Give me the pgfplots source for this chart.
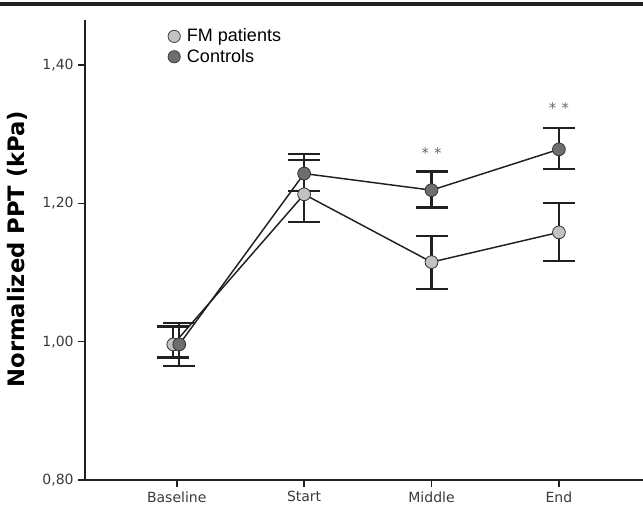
\documentclass[border=0pt]{standalone}
\usepackage{pgfplots}
\pgfplotsset{compat=1.18}
\usepackage{pgfplotstable}
\usepackage{fontspec}
\setmainfont{DejaVu Sans}
\newfontfamily\legfont{Liberation Sans}
\definecolor{fmc}{HTML}{C2C2C2}
\definecolor{ctc}{HTML}{6E6E6E}
\definecolor{ax}{HTML}{231F20}
\definecolor{tl}{HTML}{3A3A3A}
\pgfplotstableread{
x y yp ym
-0.027 0.996 0.026 0.019
1 1.213 0.049 0.040
2 1.115 0.038 0.039
3 1.158 0.042 0.042
}\fm
\pgfplotstableread{
x y yp ym
0.02 0.996 0.031 0.031
1 1.243 0.028 0.025
2 1.219 0.027 0.025
3 1.278 0.031 0.028
}\ct
\begin{document}
\begin{tikzpicture}
\useasboundingbox (0,0) rectangle (482.25pt,378pt);
\begin{axis}[
  at={(63.75pt,18pt)}, anchor=south west,
  scale only axis, width=418.5pt, height=345pt,
  xmin=-0.72, xmax=3.66, ymin=0.8, ymax=1.465,
  axis x line*=bottom, axis y line*=left,
  axis line style={line width=1.5pt, ax, -},
  xtick={0,1,2,3}, xticklabels={Baseline,Start,Middle,End},
  ytick={0.8,1.0,1.2,1.4},
  yticklabel style={/pgf/number format/.cd, fixed, fixed zerofill, precision=2, use comma, assume math mode=true},
  tick label style={font=\fontsize{10.5}{12}\selectfont, color=tl},
  tick align=outside, major tick length=5pt,
  tick style={line width=1.2pt, ax},
  ylabel={\bfseries Normalized PPT (kPa)},
  ylabel style={font=\fontsize{17}{19}\selectfont, at={(axis description cs:-0.122,0.502)}, anchor=center},
  clip=false,
  legend style={draw=none, fill=none, at={(axis description cs:0.146,0.99)}, anchor=north west, font=\legfont\fontsize{13.5}{15}\selectfont, row sep=0pt, column sep=3pt, inner sep=1pt},
  legend cell align=left,
]
\addlegendimage{only marks, mark=*, mark size=4.6pt, mark options={fill=fmc, draw=black!75, line width=0.6pt}}
\addlegendentry{FM patients}
\addlegendimage{only marks, mark=*, mark size=4.6pt, mark options={fill=ctc, draw=black!75, line width=0.6pt}}
\addlegendentry{Controls}
\addplot[forget plot, color=ax, line width=1.1pt, mark=*, mark size=4.8pt,
  mark options={fill=fmc, draw=black!80, line width=0.6pt},
  error bars/.cd, y dir=both, y explicit, error mark=|,
  error bar style={line width=1.6pt, ax},
  error mark options={mark size=12pt, line width=1.6pt, ax}]
  table[x=x, y=y, y error plus=yp, y error minus=ym]{\fm};
\addplot[forget plot, color=ax, line width=1.1pt, mark=*, mark size=4.8pt,
  mark options={fill=ctc, draw=black!80, line width=0.6pt},
  error bars/.cd, y dir=both, y explicit, error mark=|,
  error bar style={line width=1.6pt, ax},
  error mark options={mark size=12pt, line width=1.6pt, ax}]
  table[x=x, y=y, y error plus=yp, y error minus=ym]{\ct};
\node[font=\fontsize{11}{12}\selectfont, color=black!60] at (axis cs:2,1.272) {*\hspace{4pt}*};
\node[font=\fontsize{11}{12}\selectfont, color=black!60] at (axis cs:3,1.337) {*\hspace{4pt}*};
\draw[line width=2.5pt, ax] (axis description cs:-0.16,1.035) -- (axis description cs:1.01,1.035);
\end{axis}
\end{tikzpicture}
\end{document}
